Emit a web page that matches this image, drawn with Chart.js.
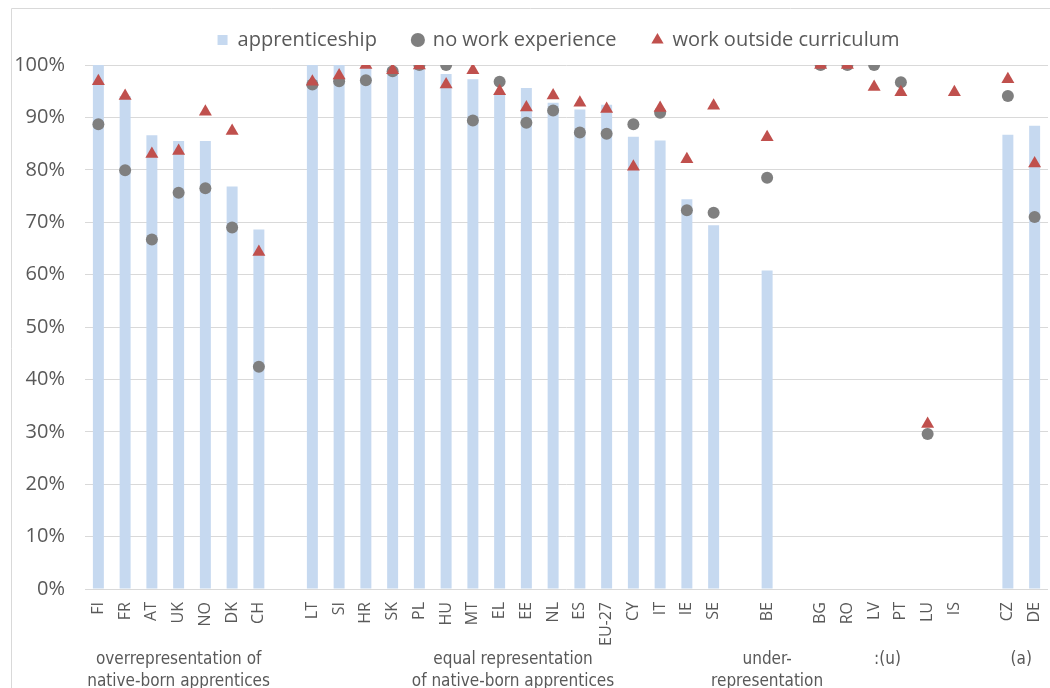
<!DOCTYPE html>
<html>
<head>
<meta charset="utf-8">
<script src="https://cdn.jsdelivr.net/npm/chart.js@4.4.1/dist/chart.umd.min.js"></script>
<style>
  body { margin: 0; background: #ffffff; }
  #wrap { width: 1050px; height: 688px; }
</style>
</head>
<body>
<div id="wrap"><canvas id="grafico" width="1050" height="688"></canvas></div>
<script>
// categorias (vazias = espaço entre grupos)
var paises = ['FI','FR','AT','UK','NO','DK','CH','',
              'LT','SI','HR','SK','PL','HU','MT','EL','EE','NL','ES','EU-27','CY','IT','IE','SE','',
              'BE','',
              'BG','RO','LV','PT','LU','IS','',
              'CZ','DE'];

// valores (%)
var apprenticeship = [100, 94.1, 86.6, 85.5, 85.5, 76.8, 68.6, null,
                      100, 100, 99.5, 99.5, 99.4, 98.3, 97.3, 94.3, 95.6, 92.8, 91.5, 92.4, 86.3, 85.6, 74.4, 69.4, null,
                      60.8, null,
                      null, null, null, null, null, null, null,
                      86.7, 88.4];
var noWork = [88.7, 79.9, 66.7, 75.6, 76.5, 69.0, 42.4, null,
              96.3, 96.9, 97.1, 98.8, 100, 100, 89.4, 96.8, 89.0, 91.3, 87.1, 86.9, 88.7, 90.9, 72.3, 71.8, null,
              78.5, null,
              100, 100, 100, 96.7, 29.6, null, null,
              94.1, 71.0];
var outsideCurriculum = [96.9, 94.1, 83.0, 83.6, 91.1, 87.4, 64.3, null,
                         96.8, 98.0, 100, 99.0, 99.9, 96.3, 99.0, 95.0, 91.9, 94.2, 92.8, 91.6, 80.6, 91.8, 82.0, 92.2, null,
                         86.2, null,
                         100, 100, 95.8, 94.8, 31.5, 94.8, null,
                         97.3, 81.2];

// ticks do eixo y
var yTicks = [0, 10, 20, 30, 40, 50, 60, 70, 80, 90, 100];

// grupos abaixo do eixo x
var grupoTextos = [['overrepresentation of', 'native-born apprentices'],
                   ['equal representation', 'of native-born apprentices'],
                   ['under-', 'representation'],
                   [':(u)'],
                   ['(a)']];
var grupoInicio = [0, 8, 25, 27, 34];
var grupoFim    = [6, 23, 25, 32, 35];

var cinza = '#595959';

// moldura + legendas de grupo
var extras = {
    id: 'extras',
    afterInit: function(chart) {
        // altura fixa da legenda
        var fitOriginal = chart.legend.fit;
        chart.legend.fit = function() {
            fitOriginal.call(this);
            this.height = 65;
        };
    },
    afterLayout: function(chart) {
        // legenda um pouco à esquerda e acima
        chart.legend.left -= 8;
        chart.legend.right -= 8;
        chart.legend.top -= 6;
        chart.legend.bottom -= 6;
    },
    beforeDraw: function(chart) {
        var ctx = chart.ctx;
        ctx.save();
        ctx.strokeStyle = '#d9d9d9';
        ctx.lineWidth = 1;
        ctx.beginPath();
        ctx.moveTo(11.5, chart.height);
        ctx.lineTo(11.5, 8.5);
        ctx.lineTo(chart.width, 8.5);
        ctx.stroke();
        ctx.restore();
    },
    afterDraw: function(chart) {
        var ctx = chart.ctx;
        var x = chart.scales.x;
        var base = chart.chartArea.bottom;
        ctx.save();
        ctx.fillStyle = cinza;
        ctx.font = '17px "Liberation Sans Narrow", "DejaVu Sans Condensed", sans-serif';
        ctx.textAlign = 'center';
        ctx.textBaseline = 'middle';
        grupoTextos.forEach(function(linhas, i) {
            var cx = (x.getPixelForValue(grupoInicio[i]) + x.getPixelForValue(grupoFim[i])) / 2;
            linhas.forEach(function(t, j) {
                ctx.fillText(t, cx, base + 71 + j * 22);
            });
        });
        ctx.restore();
    }
};

var config = {
    type: 'bar',
    data: {
        labels: paises,
        datasets: [{
            label: 'apprenticeship',
            data: apprenticeship,
            backgroundColor: '#c6d9f0',
            barPercentage: 0.41,
            categoryPercentage: 1,
            pointStyle: 'rect',
            order: 3
        }, {
            type: 'line',
            label: 'no work experience',
            data: noWork,
            showLine: false,
            pointStyle: 'circle',
            pointRadius: 6,
            pointBackgroundColor: '#7f7f7f',
            pointBorderWidth: 0,
            backgroundColor: '#7f7f7f',
            borderColor: '#7f7f7f',
            order: 2
        }, {
            type: 'line',
            label: 'work outside curriculum',
            data: outsideCurriculum,
            showLine: false,
            pointStyle: 'triangle',
            pointRadius: 7.5,
            pointBackgroundColor: '#c0504d',
            pointBorderWidth: 0,
            backgroundColor: '#c0504d',
            borderColor: '#c0504d',
            order: 1
        }]
    },
    options: {
        responsive: false,
        animation: false,
        layout: { autoPadding: false, padding: { left: 0, right: 2, top: 0, bottom: 0 } },
        plugins: {
            tooltip: { enabled: false },
            legend: {
                position: 'top',
                fullSize: false,
                labels: {
                    usePointStyle: true,
                    boxWidth: 10,
                    boxHeight: 10,
                    padding: 36,
                    color: cinza,
                    font: { family: '"Open Sans", sans-serif', size: 20 },
                    sort: function(a, b) { return a.datasetIndex - b.datasetIndex; }
                }
            }
        },
        scales: {
            x: {
                grid: { display: false, drawTicks: false },
                border: { display: false },
                ticks: {
                    autoSkip: false,
                    minRotation: 90,
                    maxRotation: 90,
                    padding: 13,
                    color: cinza,
                    font: { family: '"Open Sans", sans-serif', size: 16 }
                },
                afterFit: function(s) {
                    s.height = 99;
                    s.paddingLeft = 0;
                    s.paddingRight = 0;
                }
            },
            y: {
                min: 0,
                max: 100,
                afterBuildTicks: function(s) {
                    s.ticks = yTicks.map(function(v) { return { value: v }; });
                },
                grid: { color: '#d9d9d9', lineWidth: 1, drawTicks: false },
                border: { display: false },
                ticks: {
                    padding: 20,
                    color: cinza,
                    font: { family: '"Open Sans", sans-serif', size: 20 },
                    callback: function(v) { return v + '%'; }
                },
                afterFit: function(s) { s.width = 85; }
            }
        }
    },
    plugins: [extras]
};

var grafico = new Chart(document.getElementById('grafico'), config);
</script>
</body>
</html>
